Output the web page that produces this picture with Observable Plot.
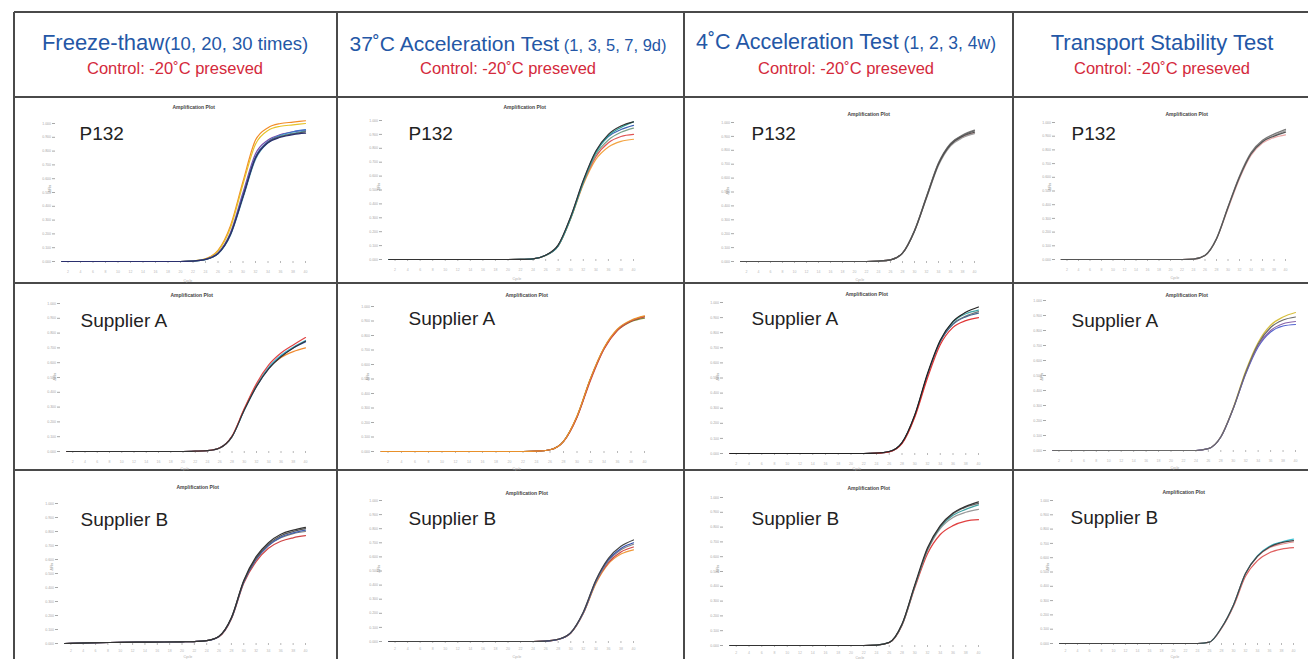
<!DOCTYPE html>
<html><head><meta charset="utf-8">
<script src="https://cdn.jsdelivr.net/npm/d3@7"></script>
<script src="https://cdn.jsdelivr.net/npm/@observablehq/plot@0.6"></script>
<style>
html,body{margin:0;padding:0;background:#fff;}
#root{position:relative;width:1308px;height:659px;overflow:hidden;font-family:"Liberation Sans",Arial,sans-serif;}
.ln{position:absolute;background:#4a4a4a;}
.hd{position:absolute;white-space:nowrap;transform:translate(-50%,-50%);line-height:1;}
</style></head>
<body><div id="root"></div>
<script>
// ---------- data ----------
const cycles = [1, 5, 10, 15, 20, 22, 24, 26, 28, 30, 32, 34, 36, 38, 40];
const yTicks = [0, 0.1, 0.2, 0.3, 0.4, 0.5, 0.6, 0.7, 0.8, 0.9, 1.0];
const xTicks = [2, 4, 6, 8, 10, 12, 14, 16, 18, 20, 22, 24, 26, 28, 30, 32, 34, 36, 38, 40];
const columnTitles = ["Freeze-thaw", "37˚C Acceleration Test", "4˚C Acceleration Test", "Transport Stability Test"];
const columnNotes = ["(10, 20, 30 times)", " (1, 3, 5, 7, 9d)", " (1, 2, 3, 4w)", ""];
const controlNote = "Control: -20˚C preseved";
const rowLabels = ["P132", "Supplier A", "Supplier B"];
const ampTitle = "Amplification Plot";
const yLabel = "ΔRn";
const xLabel = "Cycle";

// Row 1: P132
const freezeP132 = [
  [0,0,0,0,0,0.004,0.02,0.08,0.26,0.58,0.88,0.97,1.0,1.01,1.02],
  [0,0,0,0,0,0.004,0.019,0.075,0.245,0.56,0.85,0.95,0.98,0.99,1.0],
  [0,0,0,0,0,0.003,0.016,0.062,0.21,0.5,0.78,0.88,0.92,0.94,0.95],
  [0,0,0,0,0,0.003,0.015,0.058,0.2,0.48,0.76,0.87,0.915,0.94,0.955],
  [0,0,0,0,0,0.003,0.014,0.055,0.19,0.46,0.74,0.86,0.91,0.93,0.945],
  [0,0,0,0,0,0.003,0.015,0.058,0.2,0.47,0.75,0.865,0.905,0.925,0.94],
  [0,0,0,0,0,0.003,0.015,0.057,0.195,0.47,0.75,0.86,0.9,0.92,0.93]
];
const freezeP132Colors = ["#f28c28","#e6c229","#7b4fa8","#3b73c8","#4fa9c2","#5a5a5a","#2a2f6e"];

const acc37P132 = [
  [0,0,0,0,0,0.001,0.005,0.029,0.097,0.295,0.54,0.72,0.81,0.85,0.865],
  [0,0,0,0,0,0.001,0.005,0.03,0.1,0.3,0.55,0.74,0.84,0.885,0.9],
  [0,0,0,0,0,0.001,0.005,0.029,0.098,0.295,0.55,0.755,0.86,0.915,0.945],
  [0,0,0,0,0,0.001,0.005,0.03,0.1,0.305,0.565,0.775,0.885,0.935,0.965],
  [0,0,0,0,0,0.001,0.005,0.03,0.1,0.3,0.56,0.77,0.89,0.95,0.99],
  [0,0,0,0,0,0.001,0.005,0.031,0.105,0.31,0.57,0.78,0.9,0.96,0.99]
];
const acc37P132Colors = ["#f3a443","#e05555","#7aa08a","#3a62b5","#2e9e98","#333333"];

const acc4P132 = [
  [0,0,0,0,0,0,0.003,0.012,0.06,0.22,0.46,0.7,0.835,0.895,0.925],
  [0,0,0,0,0,0,0.003,0.011,0.058,0.215,0.455,0.69,0.83,0.89,0.92],
  [0,0,0,0,0,0,0.003,0.012,0.062,0.225,0.47,0.71,0.85,0.91,0.945],
  [0,0,0,0,0,0,0.003,0.012,0.06,0.22,0.465,0.705,0.845,0.905,0.94],
  [0,0,0,0,0,0,0.003,0.012,0.06,0.22,0.46,0.7,0.84,0.9,0.93]
];
const acc4P132Colors = ["#eaa6a6","#a0a0a0","#7a7a7a","#666666","#505050"];

const transportP132 = [
  [0,0,0,0,0,0,0.003,0.03,0.15,0.37,0.59,0.76,0.85,0.89,0.91],
  [0,0,0,0,0,0,0.003,0.03,0.15,0.38,0.6,0.77,0.86,0.905,0.94],
  [0,0,0,0,0,0,0.003,0.031,0.155,0.385,0.61,0.78,0.87,0.915,0.95],
  [0,0,0,0,0,0,0.003,0.03,0.15,0.38,0.6,0.77,0.86,0.9,0.93]
];
const transportP132Colors = ["#eaa6a6","#a0a0a0","#7a7a7a","#555555"];

// Row 2: Supplier A
const freezeA = [
  [0,0,0,0,0,0.002,0.006,0.024,0.1,0.285,0.45,0.565,0.635,0.675,0.7],
  [0,0,0,0,0,0.002,0.006,0.024,0.1,0.28,0.44,0.56,0.645,0.7,0.74],
  [0,0,0,0,0,0.002,0.006,0.025,0.1,0.28,0.445,0.57,0.65,0.705,0.75],
  [0,0,0,0,0,0.002,0.006,0.025,0.105,0.29,0.46,0.585,0.665,0.72,0.77],
  [0,0,0,0,0,0.002,0.006,0.024,0.1,0.28,0.44,0.56,0.64,0.7,0.745]
];
const freezeAColors = ["#f08a30","#3565c0","#45b5d5","#e04545","#333333"];

const acc37A = [
  [0,0,0,0,0,0,0.002,0.012,0.07,0.24,0.5,0.71,0.835,0.895,0.92],
  [0,0,0,0,0,0,0.002,0.012,0.07,0.24,0.5,0.71,0.84,0.9,0.93],
  [0,0,0,0,0,0,0.002,0.012,0.068,0.235,0.49,0.705,0.835,0.9,0.93],
  [0,0,0,0,0,0,0.002,0.012,0.07,0.245,0.505,0.715,0.845,0.905,0.935]
];
const acc37AColors = ["#8a8a3a","#444444","#d04848","#e8902a"];

const acc4A = [
  [0,0,0,0,0,0,0.002,0.012,0.07,0.25,0.52,0.74,0.86,0.91,0.94],
  [0,0,0,0,0,0,0.002,0.012,0.07,0.25,0.52,0.745,0.87,0.925,0.95],
  [0,0,0,0,0,0,0.002,0.012,0.07,0.25,0.52,0.74,0.855,0.905,0.93],
  [0,0,0,0,0,0,0.002,0.011,0.065,0.24,0.5,0.72,0.835,0.88,0.9],
  [0,0,0,0,0,0,0.002,0.013,0.072,0.255,0.53,0.75,0.875,0.935,0.97]
];
const acc4AColors = ["#777777","#3fa3a3","#4a6a90","#e03535","#222222"];

const transportA = [
  [0,0,0,0,0,0,0,0.013,0.092,0.285,0.53,0.72,0.835,0.89,0.92],
  [0,0,0,0,0,0,0,0.012,0.09,0.28,0.51,0.69,0.79,0.83,0.84],
  [0,0,0,0,0,0,0,0.012,0.09,0.28,0.515,0.7,0.8,0.845,0.86],
  [0,0,0,0,0,0,0,0.012,0.09,0.28,0.52,0.71,0.82,0.87,0.89]
];
const transportAColors = ["#d8c040","#5565d0","#8a66aa","#6a6a6a"];

// Row 3: Supplier B
const freezeB = [
  [0,0.005,0.008,0.01,0.012,0.014,0.02,0.048,0.175,0.43,0.585,0.68,0.73,0.755,0.77],
  [0,0.005,0.008,0.01,0.012,0.014,0.02,0.05,0.18,0.44,0.6,0.7,0.755,0.785,0.8],
  [0,0.005,0.008,0.01,0.012,0.014,0.02,0.05,0.18,0.44,0.6,0.7,0.76,0.79,0.81],
  [0,0.005,0.008,0.01,0.012,0.014,0.02,0.051,0.182,0.445,0.61,0.71,0.77,0.8,0.82],
  [0,0.005,0.008,0.01,0.012,0.014,0.021,0.052,0.185,0.45,0.62,0.72,0.78,0.81,0.83]
];
const freezeBColors = ["#d04545","#7a7a7a","#4060b0","#555555","#333333"];

const acc37B = [
  [0,0,0,0,0,0,0,0.003,0.015,0.06,0.2,0.41,0.55,0.62,0.65],
  [0,0,0,0,0,0,0,0.003,0.015,0.06,0.2,0.42,0.56,0.635,0.67],
  [0,0,0,0,0,0,0,0.003,0.015,0.06,0.2,0.42,0.57,0.65,0.69],
  [0,0,0,0,0,0,0,0.003,0.015,0.062,0.205,0.43,0.58,0.66,0.7],
  [0,0,0,0,0,0,0,0.003,0.016,0.063,0.21,0.435,0.59,0.675,0.72]
];
const acc37BColors = ["#f09a3a","#d04848","#888888","#3a55b0","#444444"];

const acc4B = [
  [0,0,0,0,0,0,0.003,0.019,0.135,0.39,0.62,0.75,0.81,0.84,0.85],
  [0,0,0,0,0,0,0.003,0.02,0.14,0.4,0.64,0.79,0.865,0.9,0.92],
  [0,0,0,0,0,0,0.003,0.02,0.14,0.4,0.65,0.8,0.88,0.92,0.95],
  [0,0,0,0,0,0,0.003,0.02,0.14,0.4,0.65,0.805,0.89,0.935,0.96],
  [0,0,0,0,0,0,0.003,0.021,0.145,0.41,0.66,0.81,0.895,0.94,0.97]
];
const acc4BColors = ["#e04040","#999999","#3fa0a0","#666666","#333333"];

const transportB = [
  [0,0,0,0,0,0,0,0.01,0.105,0.26,0.47,0.58,0.635,0.66,0.67],
  [0,0,0,0,0,0,0,0.01,0.11,0.27,0.49,0.61,0.67,0.695,0.71],
  [0,0,0,0,0,0,0,0.01,0.11,0.27,0.49,0.615,0.68,0.71,0.73],
  [0,0,0,0,0,0,0,0.01,0.11,0.27,0.49,0.61,0.675,0.705,0.72]
];
const transportBColors = ["#e06060","#e89090","#40c0d0","#444444"];

// ---------- layout ----------
const panels = [
  {row:0, curves:freezeP132, colors:freezeP132Colors, cell:[14,97,337,283], tickX:55, xR:305, yTop:123, yBase:261, title:[172,105], yl:[48,192], xl:[183,279], lab:[79,126]},
  {row:0, curves:acc37P132, colors:acc37P132Colors, cell:[337,97,684,283], tickX:382, xR:633, yTop:120, yBase:259, title:[503,105], yl:[377,190], xl:[512,277], lab:[408,126]},
  {row:0, curves:acc4P132, colors:acc4P132Colors, cell:[684,97,1013,283], tickX:734, xR:974, yTop:122, yBase:261, title:[847,112], yl:[726,194], xl:[855,278], lab:[751,126]},
  {row:0, curves:transportP132, colors:transportP132Colors, cell:[1013,97,1308,283], tickX:1055, xR:1285, yTop:122, yBase:259, title:[1165,112], yl:[1048,190], xl:[1170,276], lab:[1071,126]},
  {row:1, curves:freezeA, colors:freezeAColors, cell:[14,283,337,470], tickX:60, xR:305, yTop:303, yBase:451, title:[170,293], yl:[53,380], xl:[180,467], lab:[80,313]},
  {row:1, curves:acc37A, colors:acc37AColors, cell:[337,283,684,470], tickX:374, xR:644, yTop:306, yBase:451, title:[505,293], yl:[366,380], xl:[512,467], lab:[408,311]},
  {row:1, curves:acc4A, colors:acc4AColors, cell:[684,283,1013,470], tickX:723, xR:978, yTop:302, yBase:453, title:[845,292], yl:[716,380], xl:[852,467], lab:[751,311]},
  {row:1, curves:transportA, colors:transportAColors, cell:[1013,283,1308,470], tickX:1046, xR:1295, yTop:300, yBase:450, title:[1165,293], yl:[1040,380], xl:[1170,466], lab:[1071,313]},
  {row:2, curves:freezeB, colors:freezeBColors, cell:[14,470,337,659], tickX:58, xR:305, yTop:503, yBase:643, title:[176,485], yl:[50,570], xl:[183,655], lab:[80,512]},
  {row:2, curves:acc37B, colors:acc37BColors, cell:[337,470,684,659], tickX:382, xR:633, yTop:500, yBase:641, title:[505,491], yl:[377,572], xl:[512,655], lab:[408,511]},
  {row:2, curves:acc4B, colors:acc4BColors, cell:[684,470,1013,659], tickX:723, xR:978, yTop:497, yBase:645, title:[847,486], yl:[716,572], xl:[855,656], lab:[751,511]},
  {row:2, curves:transportB, colors:transportBColors, cell:[1013,470,1308,659], tickX:1053, xR:1293, yTop:500, yBase:643, title:[1162,490], yl:[1046,570], xl:[1170,655], lab:[1070,510]}
];

const root = document.getElementById("root");
function el(cls, css, html) {
  const d = document.createElement("div");
  d.className = cls; d.style.cssText = css;
  if (html !== undefined) d.innerHTML = html;
  root.appendChild(d); return d;
}

// table rules
[12, 97, 283, 470].forEach(y => el("ln", `left:14px;top:${y-0.75}px;width:1294px;height:1.5px;`));
[14, 337, 684, 1013].forEach(x => el("ln", `left:${x-0.75}px;top:12px;width:1.5px;height:647px;`));

// header
const headCenters = [175, 508, 846, 1162];
const titleSizes = [[22, 18.5], [21, 16.5], [21.5, 17.5], [22, 17]];
headCenters.forEach((cx, i) => {
  el("hd", `left:${cx}px;top:43px;color:#2457a6;font-size:${titleSizes[i][0]}px;`,
    `${columnTitles[i]}<span style="font-size:${titleSizes[i][1]}px">${columnNotes[i]}</span>`);
  el("hd", `left:${cx}px;top:68px;color:#d42a3c;font-size:16.5px;`, controlNote);
});

// panels
for (const p of panels) {
  const [L, T, R, B] = p.cell;
  const rows = p.curves.flatMap((vals, k) => vals.map((v, j) => ({c: cycles[j], v, k})));
  const last = p.row === 2;
  const chart = Plot.plot({
    width: R - L, height: B - T,
    marginLeft: p.tickX - L, marginRight: R - p.xR, marginTop: p.yTop - T, marginBottom: B - p.yBase,
    x: {domain: [0, 40]}, y: {domain: [0, 1]}, color: {type: "identity"},
    style: {fontFamily: "Liberation Sans, Arial, sans-serif", background: "transparent", overflow: "visible"},
    marks: [
      Plot.axisY(yTicks, {tickSize: 3, tickPadding: 1.5, fontSize: 3.5, color: "#a8a8a8", tickFormat: d => d.toFixed(3), label: null}),
      Plot.axisX(xTicks, {tickSize: 2, tickPadding: last ? 4 : 7, fontSize: 3.5, color: "#b8b8b8", label: null}),
      ...p.curves.map((_, k) => Plot.line(rows.filter(d => d.k === k), {x: "c", y: "v", stroke: p.colors[k], strokeWidth: 1.2, curve: "monotone-x"})),
      Plot.text([ampTitle], {text: d => d, frameAnchor: "top-left", dx: p.title[0] - p.tickX, dy: p.title[1] - p.yTop, fontSize: 5, fontWeight: "bold", fill: "#444"}),
      Plot.text([yLabel], {text: d => d, frameAnchor: "top-left", dx: p.yl[0] - p.tickX, dy: p.yl[1] - p.yTop, rotate: -90, fontSize: 4, fill: "#999"}),
      Plot.text([xLabel], {text: d => d, frameAnchor: "top-left", dx: p.xl[0] - p.tickX, dy: p.xl[1] - p.yTop, fontSize: 3.5, fill: "#aaa"}),
      Plot.text([rowLabels[p.row]], {text: d => d, frameAnchor: "top-left", dx: p.lab[0] - p.tickX, dy: p.lab[1] - p.yTop, fontSize: 19, fill: "#222", textAnchor: "start"})
    ]
  });
  chart.style.position = "absolute";
  chart.style.left = L + "px";
  chart.style.top = T + "px";
  root.appendChild(chart);
}
</script>
</body></html>
